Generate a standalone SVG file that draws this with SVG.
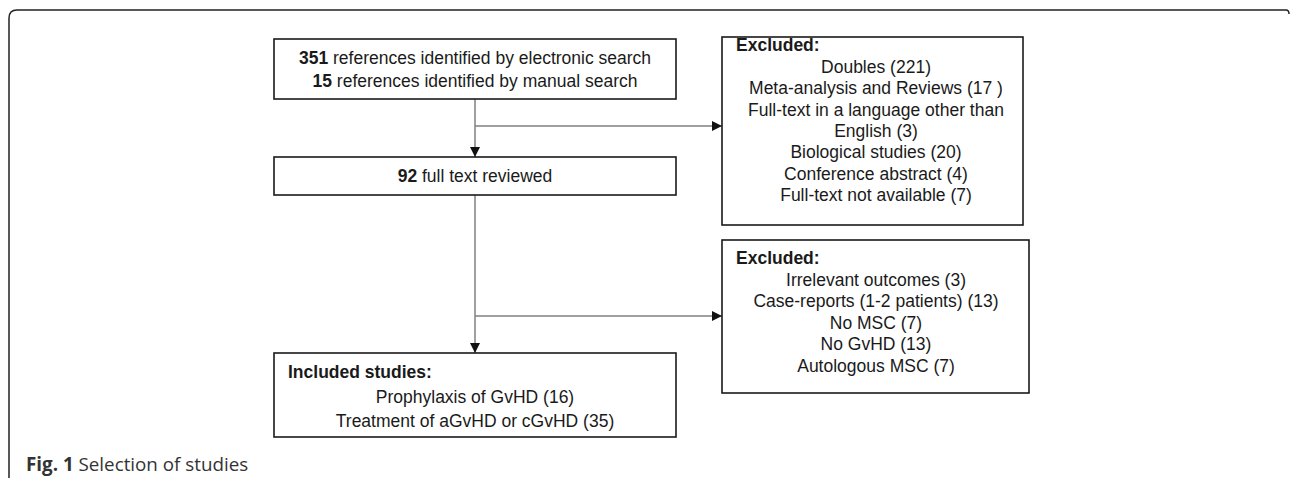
<svg xmlns="http://www.w3.org/2000/svg" width="1290" height="478" viewBox="0 0 1290 478">
<defs>
<style>
.box{fill:#fff;stroke:#1a1a1a;stroke-width:1.6}
.t{font-family:"Liberation Sans",Arial,sans-serif;font-size:17.5px;fill:#1a1a1a}
.c{text-anchor:middle}
.b{font-weight:bold}
.conn{fill:none;stroke:#808080;stroke-width:1.5}
.cap{font-family:"Open Sans","Liberation Sans",sans-serif;font-size:18.8px;fill:#333}
</style>
<marker id="arr" viewBox="0 0 10 10" refX="10" refY="5" markerWidth="10" markerHeight="10" markerUnits="userSpaceOnUse" orient="auto">
<path d="M0,0 L10,5 L0,10 Z" fill="#111"/>
</marker>
</defs>
<rect width="1290" height="478" fill="#fff"/>
<path d="M9,478 L9,18 Q9,10 17,10 L1286,10 Q1289,10 1289,14" fill="none" stroke="#222" stroke-width="1.5"/>
<g id="connectors">
<path class="conn" d="M475,99 L475,157" marker-end="url(#arr)"/>
<path class="conn" d="M475,126 L722,126" marker-end="url(#arr)"/>
<path class="conn" d="M475,195 L475,353" marker-end="url(#arr)"/>
<path class="conn" d="M475,316 L722,316" marker-end="url(#arr)"/>
</g>
<g id="node-identified">
<rect class="box" x="274" y="39" width="402" height="60"/>
<text class="t c" x="475" y="64"><tspan class="b">351</tspan> references identified by electronic search</text>
<text class="t c" x="475" y="87"><tspan class="b">15</tspan> references identified by manual search</text>
</g>
<g id="node-fulltext">
<rect class="box" x="274" y="157" width="402" height="38"/>
<text class="t c" x="475" y="182"><tspan class="b">92</tspan> full text reviewed</text>
</g>
<g id="node-included">
<rect class="box" x="274" y="353" width="402" height="84"/>
<text class="t b" x="288" y="378">Included studies:</text>
<text class="t c" x="475" y="403">Prophylaxis of GvHD (16)</text>
<text class="t c" x="475" y="427">Treatment of aGvHD or cGvHD (35)</text>
</g>
<g id="node-excluded1">
<rect class="box" x="722" y="37" width="301" height="188"/>
<text class="t b" x="736" y="51">Excluded:</text>
<text class="t c" x="876" y="73">Doubles (221)</text>
<text class="t c" x="876" y="94">Meta-analysis and Reviews (17 )</text>
<text class="t c" x="876" y="116">Full-text in a language other than</text>
<text class="t c" x="876" y="137">English (3)</text>
<text class="t c" x="876" y="158">Biological studies (20)</text>
<text class="t c" x="876" y="180">Conference abstract (4)</text>
<text class="t c" x="876" y="201">Full-text not available (7)</text>
</g>
<g id="node-excluded2">
<rect class="box" x="722" y="240" width="307" height="153"/>
<text class="t b" x="736" y="264">Excluded:</text>
<text class="t c" x="876" y="286">Irrelevant outcomes (3)</text>
<text class="t c" x="876" y="307">Case-reports (1-2 patients) (13)</text>
<text class="t c" x="876" y="329">No MSC (7)</text>
<text class="t c" x="876" y="350">No GvHD (13)</text>
<text class="t c" x="876" y="372">Autologous MSC (7)</text>
</g>
<text class="cap" x="26" y="471"><tspan font-weight="bold">Fig. 1</tspan> Selection of studies</text>
</svg>
